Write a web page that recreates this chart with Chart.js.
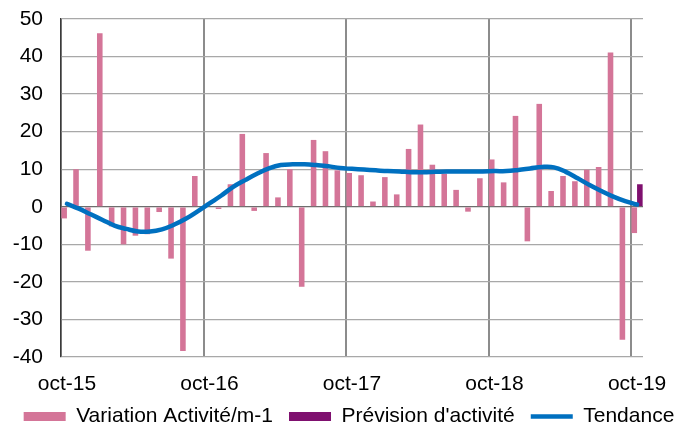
<!DOCTYPE html>
<html>
<head>
<meta charset="utf-8">
<script src="https://cdn.jsdelivr.net/npm/chart.js@4.4.0/dist/chart.umd.min.js"></script>
<style>
  body { margin: 0; background: #fff; }
</style>
</head>
<body>
<canvas id="chart" width="698" height="425"></canvas>
<script>
let months = ['oct-15','nov-15','déc-15','janv-16','févr-16','mars-16','avr-16','mai-16','juin-16','juil-16','août-16','sept-16',
              'oct-16','nov-16','déc-16','janv-17','févr-17','mars-17','avr-17','mai-17','juin-17','juil-17','août-17','sept-17',
              'oct-17','nov-17','déc-17','janv-18','févr-18','mars-18','avr-18','mai-18','juin-18','juil-18','août-18','sept-18',
              'oct-18','nov-18','déc-18','janv-19','févr-19','mars-19','avr-19','mai-19','juin-19','juil-19','août-19','sept-19',
              'oct-19'];
let variationArr = [-3.1, 10.0, -11.7, 46.2, -5.2, -10.0, -7.7, -7.3, -1.4, -13.8, -38.4, 8.2,
                    0, -0.6, 6.0, 19.4, -1.1, 14.3, 2.5, 10.0, -21.3, 17.8, 14.8, 9.7,
                    9.0, 8.4, 1.4, 7.9, 3.3, 15.4, 21.9, 11.2, 8.8, 4.5, -1.3, 7.6,
                    12.6, 6.5, 24.2, -9.2, 27.4, 4.2, 8.2, 6.8, 9.9, 10.6, 41.1, -35.4,
                    -7.0];
let previsionArr = [null, null, null, null, null, null, null, null, null, null, null, null,
                    null, null, null, null, null, null, null, null, null, null, null, null,
                    null, null, null, null, null, null, null, null, null, null, null, null,
                    null, null, null, null, null, null, null, null, null, null, null, null,
                    6.0];
let tendanceArr = [0.8, -0.5, -2.0, -3.5, -5.0, -5.9, -6.6, -6.6, -6.0, -4.8, -3.2, -1.2,
                   0.9, 3.0, 5.3, 7.1, 8.8, 10.2, 11.1, 11.3, 11.3, 11.1, 10.8, 10.3,
                   10.1, 9.9, 9.7, 9.5, 9.4, 9.2, 9.2, 9.3, 9.4, 9.4, 9.4, 9.4,
                   9.5, 9.5, 9.8, 10.2, 10.6, 10.5, 9.3, 7.6, 5.8, 4.2, 2.7, 1.5,
                   0.6];
let yTicks = [50, 40, 30, 20, 10, 0, -10, -20, -30, -40];

Chart.defaults.font.family = '"Liberation Sans", Arial, sans-serif';
Chart.defaults.font.size = 21;
Chart.defaults.color = '#000';

var ctx = document.getElementById('chart').getContext('2d');
var myChart = new Chart(ctx, {
    type: 'bar',
    data: {
        labels: months,
        datasets: [{
            label: 'Variation Activité/m-1',
            data: variationArr,
            backgroundColor: '#d47598',
            borderWidth: 0,
            pointStyle: 'rect',
            order: 1
        },
        {
            label: "Prévision d'activité",
            data: previsionArr,
            backgroundColor: '#7f106f',
            borderWidth: 0,
            pointStyle: 'rect',
            order: 1
        },
        {
            type: 'line',
            label: 'Tendance',
            data: tendanceArr,
            borderColor: '#0070c0',
            backgroundColor: '#0070c0',
            borderWidth: 4.5,
            borderCapStyle: 'round',
            pointRadius: 0,
            pointStyle: 'line',
            tension: 0.4,
            fill: false,
            order: 0
        }]
    },
    options: {
        responsive: false,
        animation: false,
        categoryPercentage: 0.94,
        barPercentage: 1.0,
        layout: {
            padding: { top: 19, right: 0, left: 0, bottom: -12 }
        },
        scales: {
            x: {
                offset: true,
                grid: {
                    offset: true,
                    drawTicks: false,
                    color: c => c.index % 12 === 0 ? '#8c8c8c' : 'rgba(0,0,0,0)',
                    lineWidth: 2
                },
                border: { display: false },
                ticks: {
                    autoSkip: false,
                    maxRotation: 0,
                    padding: 15,
                    callback: function (val, i) { return i % 12 === 0 ? months[i] : ''; }
                },
                afterFit: function (scale) { scale.height = 33; }
            },
            y: {
                min: -40,
                max: 50,
                afterBuildTicks: function (scale) { scale.ticks = yTicks.map(v => ({ value: v })); },
                grid: {
                    drawTicks: false,
                    color: c => c.tick && c.tick.value === 0 ? '#6e6e6e' : '#a8a8a8',
                    lineWidth: 1.3
                },
                border: { display: true, color: '#3a3a3a', width: 1.3 },
                ticks: { padding: 18 },
                afterFit: function (scale) {
                    scale.width = 61;
                    scale.paddingTop = 0;
                    scale.paddingBottom = 0;
                }
            },
            yRight: {
                position: 'right',
                min: -40,
                max: 50,
                grid: { display: false, drawTicks: false },
                border: { display: false },
                ticks: { display: false },
                afterFit: function (scale) { scale.width = 55; }
            }
        },
        plugins: {
            tooltip: { enabled: false },
            legend: {
                position: 'bottom',
                labels: {
                    usePointStyle: true,
                    pointStyleWidth: 42,
                    boxHeight: 9,
                    padding: 16,
                    sort: (a, b) => a.datasetIndex - b.datasetIndex
                }
            }
        }
    }
});
</script>
</body>
</html>
